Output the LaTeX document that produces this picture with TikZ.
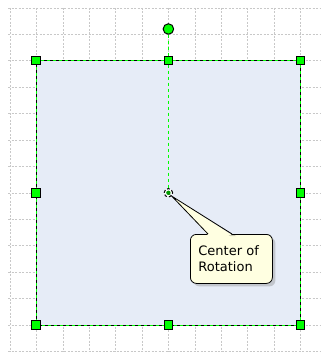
\documentclass[tikz,border=0pt]{standalone}
\usepackage{fontspec}
\newfontfamily\calloutfont{DejaVu Sans}
\usetikzlibrary{shadows}
\definecolor{handlegreen}{RGB}{0,255,0}
\definecolor{shapefill}{RGB}{230,236,247}
\definecolor{tipfill}{RGB}{255,255,225}
\definecolor{gridgrey}{RGB}{200,200,200}

\begin{document}
\begin{tikzpicture}[x=1pt,y=-1pt]
   \tikzstyle{handle}=[draw=black,fill=handlegreen,line width=1pt,minimum size=8.5pt,inner sep=0pt]
   \tikzstyle{gridline}=[gridgrey,line width=0.6pt,dash pattern=on 2pt off 1.5pt]
   \useasboundingbox (0,0) rectangle (321,352);
   \fill [white] (0,0) rectangle (321,352);

   % grid
   \foreach \i in {0,...,11}
      \draw [gridline] (10+26.4*\i,8) -- (10+26.4*\i,352);
   \foreach \j in {0,...,13}
      \draw [gridline] (8,8+26.4*\j) -- (321,8+26.4*\j);

   % selected shape
   \node (shape) [fill=shapefill,minimum width=264pt,minimum height=264pt,inner sep=0pt] at (168.4,192.8) {};
   \draw [black,line width=1pt] (shape.north west) rectangle (shape.south east);
   \draw [handlegreen,line width=1pt,dash pattern=on 3pt off 3pt] (shape.north west) rectangle (shape.south east);

   \node (rot) [circle,handle,minimum size=10.5pt] at (168.4,29) {};
   \node (pin) [circle,draw,densely dashed,line width=1pt,minimum size=8.5pt,inner sep=0pt,fill=white] at (shape.center) {};
   \fill [handlegreen!60!black] (pin.center) circle (2.2pt);
   \draw [handlegreen,line width=1pt,dash pattern=on 3pt off 3pt] (rot) -- (pin);

   \foreach \a/\n in {north west/htl,north/htm,north east/htr,west/hml,east/hmr,south west/hbl,south/hbm,south east/hbr}
      \node (\n) [handle] at (shape.\a) {};

   % callout
   \node (tip) [anchor=north west,draw,line width=0.8pt,fill=tipfill,rounded corners=6pt,
      minimum width=82pt,minimum height=49pt,text width=66pt,inner xsep=8pt,align=left,
      drop shadow={shadow xshift=3pt,shadow yshift=-3pt,opacity=.35},
      font=\calloutfont\fontsize{13}{16}\selectfont] at (190,234) {Center of\\Rotation};
   \fill [black,opacity=.2] ([xshift=2pt,yshift=-2pt]pin.south east) -- ([xshift=46pt,yshift=-2pt]tip.north west) -- ([xshift=40pt,yshift=-2pt]tip.north west) -- cycle;
   \fill [tipfill] (pin.south east) -- ([xshift=18pt,yshift=-1pt]tip.north west) -- ([xshift=42pt,yshift=-1pt]tip.north west) -- cycle;
   \draw [line width=0.8pt] ([xshift=18pt]tip.north west) -- (pin.south east) -- ([xshift=42pt]tip.north west);

\end{tikzpicture}
\end{document}
